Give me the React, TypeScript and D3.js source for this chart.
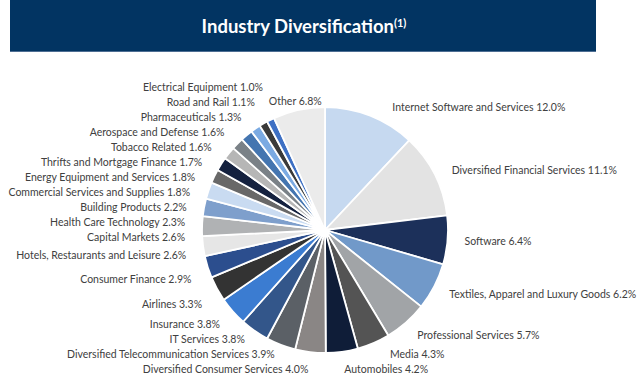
import React, { useEffect, useRef } from "react";
import * as d3 from "d3";

const industries = [
  "Internet Software and Services",
  "Diversified Financial Services",
  "Software",
  "Textiles, Apparel and Luxury Goods",
  "Professional Services",
  "Media",
  "Automobiles",
  "Diversified Consumer Services",
  "Diversified Telecommunication Services",
  "IT Services",
  "Insurance",
  "Airlines",
  "Consumer Finance",
  "Hotels, Restaurants and Leisure",
  "Capital Markets",
  "Health Care Technology",
  "Building Products",
  "Commercial Services and Supplies",
  "Energy Equipment and Services",
  "Thrifts and Mortgage Finance",
  "Tobacco Related",
  "Aerospace and Defense",
  "Pharmaceuticals",
  "Road and Rail",
  "Electrical Equipment",
  "Other",
];

const shares = [
  12.0, 11.1, 6.4, 6.2, 5.7, 4.3, 4.2, 4.0, 3.9, 3.8, 3.8, 3.3, 2.9, 2.6, 2.6,
  2.3, 2.2, 1.8, 1.8, 1.7, 1.6, 1.6, 1.3, 1.1, 1.0, 6.8,
];

const palette = [
  "#c6d9f0", "#e3e3e3", "#1c305a", "#7199c9", "#a1a4a7", "#545454",
  "#0f1d38", "#8a8685", "#5b6066", "#33568a", "#3b7cd1", "#333333",
  "#2c4e8e", "#e6e6e6", "#b0b2b4", "#7e9fcc", "#c9dbf1", "#686868",
  "#14213f", "#b6b6b6", "#7a8187", "#4475b0", "#7baae2", "#3a3a3a",
  "#3e70c4", "#ebebeb",
];

const W = 640;
const H = 387;

export default function App() {
  const ref = useRef<SVGSVGElement>(null);

  useEffect(() => {
    const svg = d3.select(ref.current);
    svg.selectAll("*").remove();

    // banner
    svg
      .append("rect")
      .attr("x", 10)
      .attr("y", 0)
      .attr("width", 586)
      .attr("height", 52)
      .attr("fill", "#023462");
    svg
      .append("line")
      .attr("x1", 10)
      .attr("x2", 596)
      .attr("y1", 51.5)
      .attr("y2", 51.5)
      .attr("stroke", "#4d6e93")
      .attr("stroke-width", 1);
    const title = svg
      .append("text")
      .attr("x", 304)
      .attr("y", 33)
      .attr("text-anchor", "middle")
      .attr("fill", "#ffffff")
      .style("font-family", "Lato, 'Open Sans', sans-serif")
      .style("font-weight", "bold")
      .style("font-size", "18.5px");
    title.append("tspan").text("Industry Diversification");
    title
      .append("tspan")
      .attr("dy", -6)
      .style("font-size", "11px")
      .text("(1)");

    const cx = 325;
    const cy = 230;
    const r = 123;
    const labelR = 140;

    const data = industries.map((name, i) => ({ name, value: shares[i], i }));

    const pie = d3
      .pie<any>()
      .sort(null)
      .value((d) => d.value);
    const arcs = pie(data);
    const arc = d3.arc<any>().innerRadius(0).outerRadius(r);

    const color = d3
      .scaleOrdinal<string, string>()
      .domain(industries)
      .range(palette);

    const g = svg.append("g").attr("transform", `translate(${cx},${cy})`);
    g.selectAll("path")
      .data(arcs)
      .enter()
      .append("path")
      .attr("d", arc)
      .attr("fill", (d) => color(d.data.name))
      .attr("stroke", "#ffffff")
      .attr("stroke-width", 1.8)
      .attr("stroke-linejoin", "round");

    // label layout: mid-angle anchors, vertical de-overlap per side
    const labels = arcs.map((a) => {
      const mid = (a.startAngle + a.endAngle) / 2;
      const c = Math.cos(mid);
      const top = c > 0.96;
      const right = mid < Math.PI;
      return {
        text: `${a.data.name} ${a.data.value.toFixed(1)}%`,
        mid,
        anchor: top ? "middle" : right ? "start" : "end",
        y: -(c > 0 ? labelR - 8 : labelR) * c + (right || top ? 0 : 7),
        x: labelR * Math.sin(mid),
      };
    });

    const gap = 15;
    const yMax = 139;
    ["start", "end"].forEach((side) => {
      const group = labels
        .filter((l) => l.anchor === side)
        .sort((a, b) => a.y - b.y);
      for (let k = 0; k < 400; k++) {
        for (let j = 1; j < group.length; j++) {
          const d = group[j].y - group[j - 1].y;
          if (d < gap) {
            const s = (gap - d) / 2;
            group[j].y += s;
            group[j - 1].y -= s;
          }
        }
        group.forEach((l) => (l.y = Math.min(l.y, yMax)));
      }
      group.forEach((l) => {
        if (Math.abs(l.y) >= labelR) return;
        const dist = Math.sqrt(labelR * labelR - l.y * l.y);
        if (side === "start") l.x = Math.max(l.x, dist);
        else if (l.y < 0) l.x = Math.min(l.x, -dist);
      });
    });

    g.selectAll("text.lbl")
      .data(labels)
      .enter()
      .append("text")
      .attr("class", "lbl")
      .attr("x", (d) => d.x)
      .attr("y", (d) => d.y)
      .attr("dy", "0.35em")
      .attr("text-anchor", (d) => d.anchor)
      .attr("fill", "#404040")
      .style("font-family", "Lato, 'Open Sans', sans-serif")
      .style("font-size", "10.5px")
      .text((d) => d.text);
  }, []);

  return (
    <svg
      ref={ref}
      width={W}
      height={H}
      style={{ position: "absolute", left: 0, top: 0, background: "#fff" }}
    />
  );
}
